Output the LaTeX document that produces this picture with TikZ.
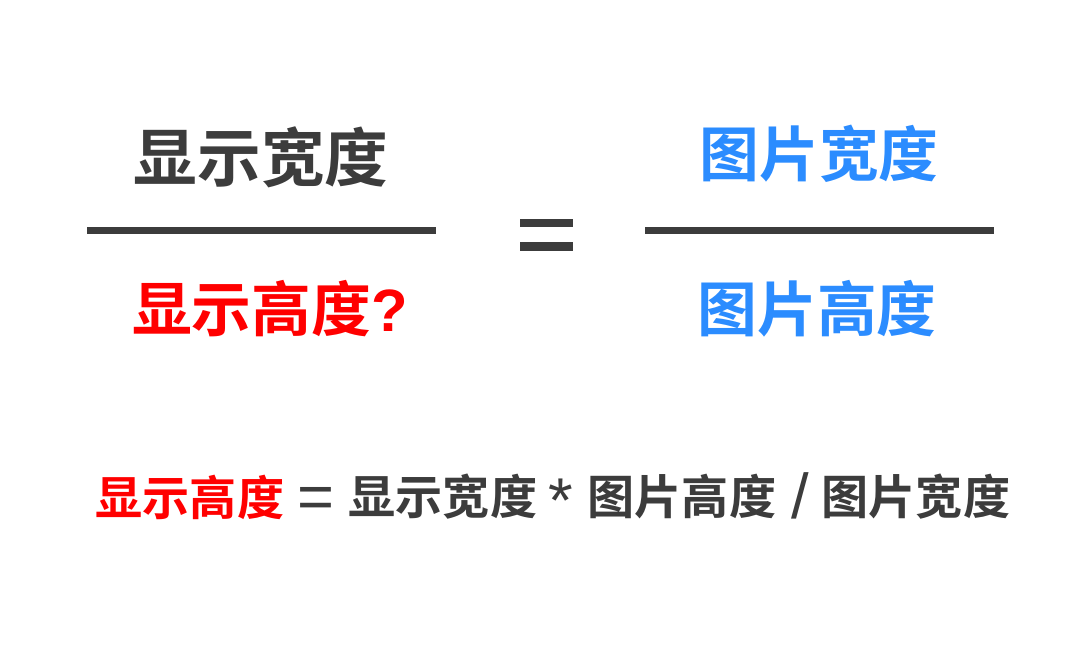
\documentclass[tikz,border=0pt]{standalone}
\usepackage{fontspec}
\newfontfamily\cjk{Noto Sans CJK SC Bold}
\newfontfamily\lat{Liberation Sans}
\definecolor{dg}{HTML}{3C3C3C}
\definecolor{rd}{HTML}{FF0000}
\definecolor{bl}{HTML}{2B8CFF}
\tikzset{
  big/.style={font=\cjk\fontsize{18.1pt}{21pt}\selectfont, inner sep=0pt},
  mid/.style={font=\cjk\fontsize{17pt}{20pt}\selectfont, inner sep=0pt},
  small/.style={font=\cjk\fontsize{13.4pt}{16pt}\selectfont, inner sep=0pt},
  sym/.style={font=\lat\fontsize{18pt}{21pt}\selectfont, inner sep=0pt, text=dg, anchor=base},
  bar/.style={fill=dg, draw=none}
}
\begin{document}
\begin{tikzpicture}[x=0.01cm,y=-0.01cm]
\useasboundingbox[fill=white] (0,0) rectangle (1080,650);
\node[big, text=dg] (w1) at (261,157) {显示宽度};
\node[mid, text=rd] (h1) at (270,309) {显示高度{\lat\bfseries ?}};
\node[mid, text=bl] (w2) at (819,154) {图片宽度};
\node[mid, text=bl] (h2) at (817,309) {图片高度};
\fill[bar] (87,227) rectangle (436,234);
\fill[bar] (645,227) rectangle (994,234);
\fill[bar] (520,219) rectangle (573,227);
\fill[bar] (520,242) rectangle (573,251);
\node[small, text=rd, anchor=west] (f1) at (95,497) {显示高度};
\node[sym] (eq) at (316,518) {=};
\node[small, text=dg, anchor=west] (f2) at (348,497) {显示宽度};
\node[sym] (st) at (561,522) {*};
\node[sym] (sl) at (800,518) {/};
\node[small, text=dg, anchor=west] (f3) at (587,497) {图片高度};
\node[small, text=dg, anchor=west] (f4) at (821,497) {图片宽度};
\end{tikzpicture}
\end{document}
